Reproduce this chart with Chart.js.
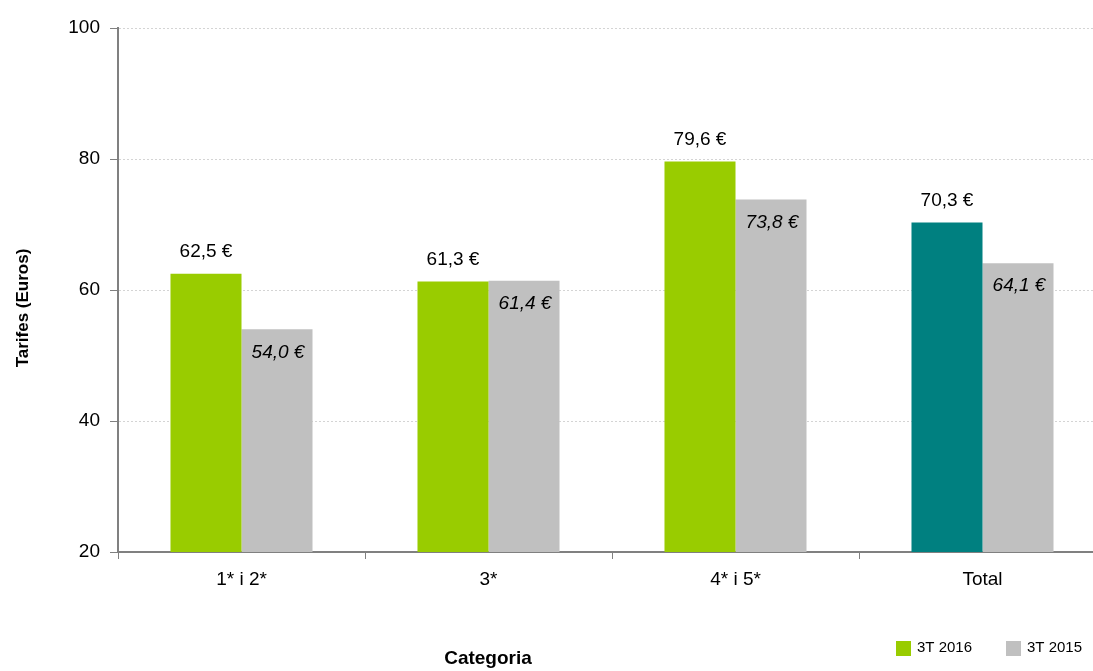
<!DOCTYPE html>
<html>
<head>
<meta charset="utf-8">
<script src="https://cdn.jsdelivr.net/npm/chart.js@4/dist/chart.umd.min.js"></script>
<style>
  html, body { margin: 0; padding: 0; background: #fff; overflow: hidden; }
  #wrap { width: 1110px; height: 671px; position: relative; }
</style>
</head>
<body>
<div id="wrap"><canvas id="grafic"></canvas></div>
<script>
const categories = ["1* i 2*", "3*", "4* i 5*", "Total"];
const tarifes2016 = [62.5, 61.3, 79.6, 70.3];
const tarifes2015 = [54.0, 61.4, 73.8, 64.1];
const yTicks = [20, 40, 60, 80, 100];
const seriesNames = ["3T 2016", "3T 2015"];

const FONT = "'Liberation Sans', Arial, sans-serif";
const colors2016 = ["#99CC00", "#99CC00", "#99CC00", "#008080"];
const color2015 = "#C0C0C0";

function euro(v) {
    return v.toFixed(1).replace(".", ",") + " €";
}

// etiquetes de valor sobre les barres
const valueLabels = {
    id: "valueLabels",
    afterDatasetsDraw(chart) {
        const ctx = chart.ctx;
        ctx.save();
        ctx.fillStyle = "#000";
        ctx.textAlign = "center";
        ctx.textBaseline = "middle";
        chart.data.datasets.forEach((ds, i) => {
            const meta = chart.getDatasetMeta(i);
            meta.data.forEach((bar, j) => {
                const txt = euro(ds.data[j]);
                if (i === 0) {
                    ctx.font = "19px " + FONT;
                    ctx.fillText(txt, bar.x, bar.y - 22);
                } else {
                    ctx.font = "italic 19px " + FONT;
                    ctx.fillText(txt, bar.x + 1, bar.y + 23);
                }
            });
        });
        ctx.restore();
    }
};

// titols dels eixos i llegenda
const titlesLegend = {
    id: "titlesLegend",
    afterDraw(chart) {
        const ctx = chart.ctx;
        ctx.save();
        ctx.fillStyle = "#000";
        ctx.textAlign = "center";
        ctx.textBaseline = "middle";
        ctx.font = "bold 19px " + FONT;
        ctx.fillText("Categoria", 488, 659);

        ctx.save();
        ctx.translate(23, 308);
        ctx.rotate(-Math.PI / 2);
        ctx.font = "bold 17px " + FONT;
        ctx.fillText("Tarifes (Euros)", 0, 0);
        ctx.restore();

        ctx.font = "15px " + FONT;
        ctx.textAlign = "left";
        const items = [
            { x: 896, color: colors2016[0], text: seriesNames[0] },
            { x: 1006, color: color2015, text: seriesNames[1] }
        ];
        items.forEach(it => {
            ctx.fillStyle = it.color;
            ctx.fillRect(it.x, 641, 15, 15);
            ctx.fillStyle = "#000";
            ctx.fillText(it.text, it.x + 21, 648);
        });
        ctx.restore();
    }
};

const ctx = document.querySelector("#grafic");
new Chart(ctx, {
    type: "bar",
    data: {
        labels: categories,
        datasets: [
            {
                label: seriesNames[0],
                data: tarifes2016,
                backgroundColor: colors2016,
                categoryPercentage: 0.575,
                barPercentage: 1
            },
            {
                label: seriesNames[1],
                data: tarifes2015,
                backgroundColor: color2015,
                categoryPercentage: 0.575,
                barPercentage: 1
            }
        ]
    },
    options: {
        responsive: true,
        maintainAspectRatio: false,
        animation: false,
        devicePixelRatio: 1,
        layout: { padding: { top: 28, right: 4, left: 10, bottom: 4 } },
        plugins: {
            title: { display: false },
            tooltip: { enabled: false },
            legend: { display: false }
        },
        scales: {
            x: {
                grid: {
                    offset: true,
                    drawOnChartArea: false,
                    drawTicks: true,
                    tickLength: 7,
                    color: "#808080",
                    lineWidth: 1
                },
                border: { color: "#808080", width: 2 },
                ticks: {
                    font: { family: FONT, size: 19 },
                    color: "#000",
                    padding: 9
                },
                afterFit(scale) { scale.height = 115; }
            },
            y: {
                min: 20,
                max: 100,
                afterBuildTicks(scale) {
                    scale.ticks = yTicks.map(v => ({ value: v }));
                },
                afterFit(scale) { scale.width = 108; },
                grid: {
                    color: "#d4d4d4",
                    lineWidth: 1,
                    drawTicks: true,
                    tickLength: 8,
                    tickColor: "#808080",
                    tickBorderDash: []
                },
                border: { color: "#808080", width: 2, dash: [2, 2] },
                ticks: {
                    font: { family: FONT, size: 19 },
                    color: "#000",
                    padding: 10
                },
                title: { display: false }
            }
        }
    },
    plugins: [valueLabels, titlesLegend]
});
</script>
</body>
</html>
